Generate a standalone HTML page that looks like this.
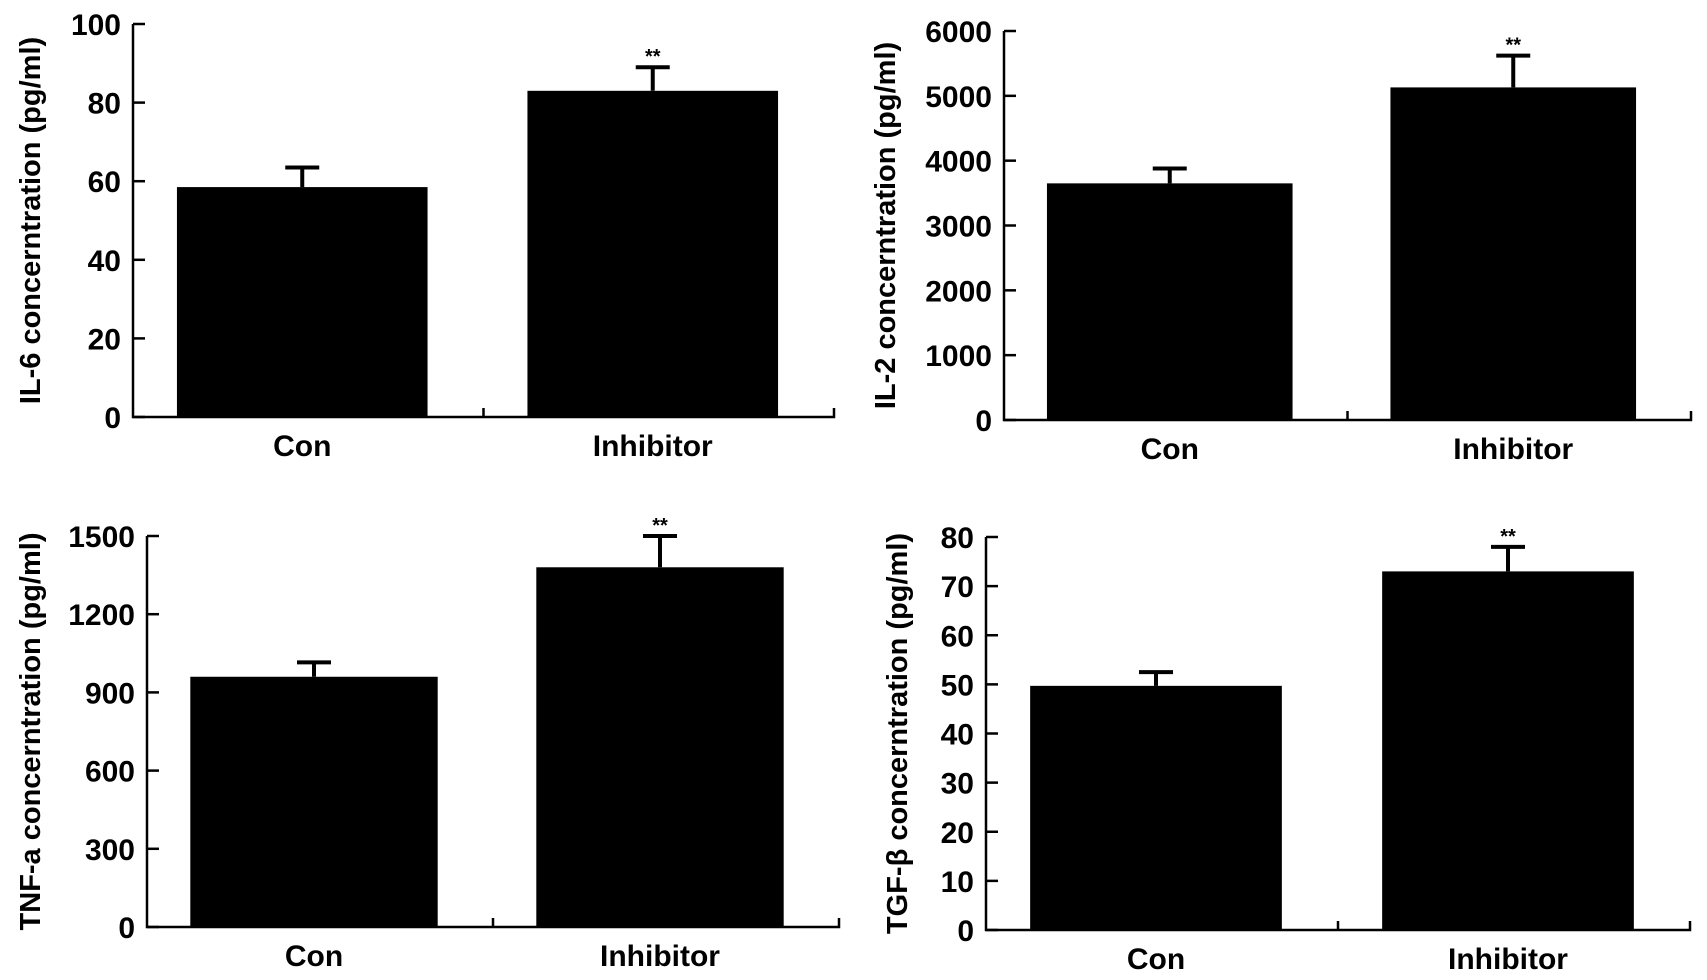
<!DOCTYPE html>
<html><head><meta charset="utf-8"><style>
html,body{margin:0;padding:0;background:#fff;}
svg{display:block;font-family:"Liberation Sans",Arial,sans-serif;font-weight:bold;}
</style></head><body>
<svg id="fig" width="1707" height="980" viewBox="0 0 1707 980"></svg>
<script>
const categories = ["Con", "Inhibitor"];
const il6Values = [58.5, 83];
const il6Errors = [63.5, 89];
const il6Ticks = [0, 20, 40, 60, 80, 100];
const il2Values = [3650, 5130];
const il2Errors = [3880, 5620];
const il2Ticks = [0, 1000, 2000, 3000, 4000, 5000, 6000];
const tnfValues = [960, 1380];
const tnfErrors = [1015, 1500];
const tnfTicks = [0, 300, 600, 900, 1200, 1500];
const tgfValues = [49.7, 73];
const tgfErrors = [52.5, 78];
const tgfTicks = [0, 10, 20, 30, 40, 50, 60, 70, 80];
const sigMarks = ["", "**"];

const NS = "http://www.w3.org/2000/svg";
const svg = document.getElementById("fig");
function mk(tag, attrs, parent){
  const e = document.createElementNS(NS, tag);
  for (const k in attrs) e.setAttribute(k, attrs[k]);
  (parent || svg).appendChild(e);
  return e;
}
function panel(name, title, values, errors, ticks, L){
  const g = mk("g", {});
  
  
  const ymax = ticks[ticks.length - 1];
  const y = v => L.bottom - (v / ymax) * (L.bottom - L.top);
  const bandW = (L.right - L.x) / categories.length;
  const barW = bandW * 0.715;
  const ax = mk("path", {d:`M${L.x},${L.top} V${L.bottom} H${L.right} v-9 M${L.x + bandW},${L.bottom} v-9`, stroke:"#000", "stroke-width":2.5, fill:"none"}, g);
  
  
  ticks.forEach(t => {
    const ty = y(t);
    const tl = mk("line", {x1:L.x, x2:L.x + 12, y1:ty, y2:ty, stroke:"#000", "stroke-width":2.5}, g);
    
    
    const tx = mk("text", {x:L.x - 12, y:ty + 11, "text-anchor":"end", "font-size":30}, g);
    tx.textContent = t;
    
    
  });
  categories.forEach((c, i) => {
    const cx = L.x + bandW * (i + 0.5) - 6;
    const b = mk("rect", {x:cx - barW / 2, y:y(values[i]), width:barW, height:L.bottom - y(values[i]), fill:"#000"}, g);
    
    
    const eb = mk("path", {d:`M${cx},${y(values[i])} V${y(errors[i])} M${cx - 17},${y(errors[i])} H${cx + 17}`, stroke:"#000", "stroke-width":4, fill:"none"}, g);
    
    
    if (sigMarks[i]) {
      const s = mk("text", {x:cx, y:y(errors[i]) - 4, "text-anchor":"middle", "font-size":20}, g);
      s.textContent = sigMarks[i];
      
      
    }
    const xl = mk("text", {x:cx, y:L.bottom + 39, "text-anchor":"middle", "font-size":30}, g);
    xl.textContent = c;
    
    
  });
  const cy = (L.top + L.bottom) / 2;
  const yt = mk("text", {x:L.tx, y:cy, transform:`rotate(-90 ${L.tx} ${cy})`, "text-anchor":"middle", "font-size":29}, g);
  yt.textContent = title;
  
  
}
panel("il6", "IL-6 concerntration (pg/ml)", il6Values, il6Errors, il6Ticks, {x:133, top:24, bottom:417, right:834, tx:40});
panel("il2", "IL-2 concerntration (pg/ml)", il2Values, il2Errors, il2Ticks, {x:1004, top:31, bottom:420, right:1691, tx:895});
panel("tnf", "TNF-a concerntration (pg/ml)", tnfValues, tnfErrors, tnfTicks, {x:147, top:536, bottom:927, right:839, tx:40});
panel("tgf", "TGF-β concerntration (pg/ml)", tgfValues, tgfErrors, tgfTicks, {x:986, top:537, bottom:930, right:1690, tx:907});
</script>
</body></html>
